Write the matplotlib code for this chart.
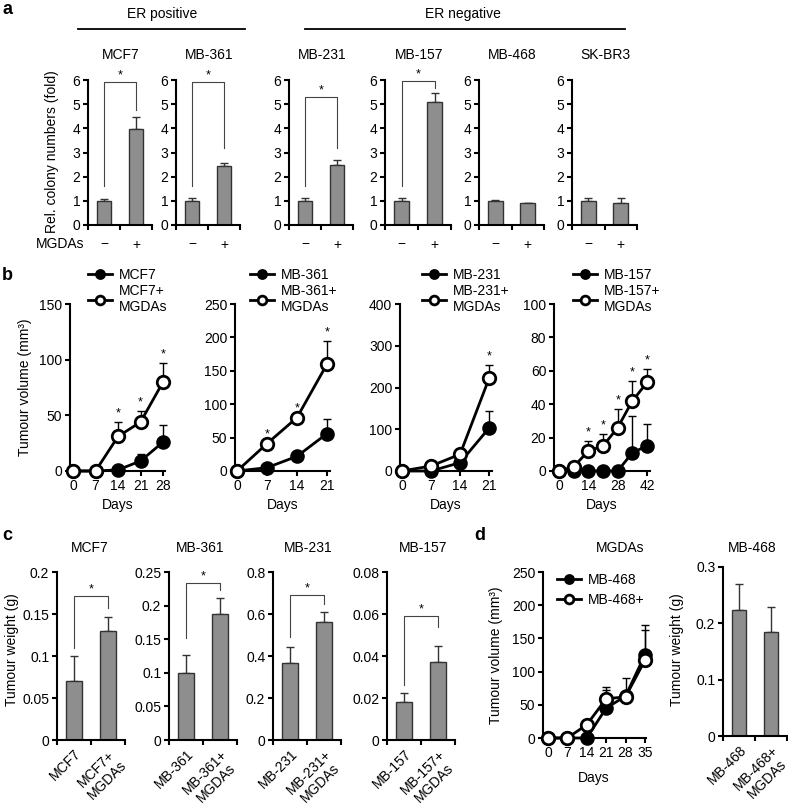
import matplotlib
matplotlib.use("Agg")
import matplotlib.pyplot as plt
from matplotlib.lines import Line2D
import numpy as np

FS = 10
plt.rcParams['font.family'] = ['Liberation Sans', 'DejaVu Sans']
plt.rcParams['font.size'] = FS

# ---------------- DATA ----------------
# Panel a: relative colony numbers
a_names = ['MCF7', 'MB-361', 'MB-231', 'MB-157', 'MB-468', 'SK-BR3']
a_ctrl = [1.0, 1.0, 1.0, 1.0, 1.0, 1.0]
a_ctrl_err = [0.08, 0.12, 0.10, 0.12, 0.05, 0.13]
a_mgda = [3.97, 2.45, 2.47, 5.10, 0.92, 0.92]
a_mgda_err = [0.50, 0.12, 0.20, 0.38, 0.0, 0.20]
# significance brackets: (top, left leg bottom, right leg bottom)
a_sig = [(5.9, 1.6, 4.75), (5.9, 1.6, 3.2), (5.3, 1.6, 3.2), (5.95, 1.6, 5.65), None, None]
a_xlabels = ['\u2212', '+']
a_yticks = [0, 1, 2, 3, 4, 5, 6]

# Panel b: tumour volume time courses
b_names = ['MCF7', 'MB-361', 'MB-231', 'MB-157']
b_days = [[0, 7, 14, 21, 28], [0, 7, 14, 21], [0, 7, 14, 21], [0, 7, 14, 21, 28, 35, 42]]
b_ctrl = [[0, 0, 1, 9, 26], [0, 5, 22, 56], [0, 0, 20, 103], [0, 0, 0, 0, 0, 11, 15]]
b_ctrl_err = [[0, 0, 0, 6, 15], [0, 0, 0, 22], [0, 0, 0, 41], [0, 0, 0, 0, 0, 22, 13]]
b_mgda = [[0, 0, 31, 44, 80], [0, 41, 80, 160], [0, 12, 40, 222], [0, 2.6, 12, 15, 26, 42, 53]]
b_mgda_err = [[0, 0, 13, 10, 17], [0, 0, 0, 34], [0, 0, 0, 32], [0, 0, 6, 7, 11, 12, 8]]
b_star_days = [[14, 21, 28], [7, 14, 21], [21], [14, 21, 28, 35, 42]]
b_yticks = [[0, 50, 100, 150], [0, 50, 100, 150, 200, 250], [0, 100, 200, 300, 400],
            [0, 20, 40, 60, 80, 100]]
b_xticks = [[0, 7, 14, 21, 28], [0, 7, 14, 21], [0, 7, 14, 21], [0, 14, 28, 42]]

# Panel c: tumour weight
c_names = ['MCF7', 'MB-361', 'MB-231', 'MB-157']
c_ctrl = [0.070, 0.099, 0.367, 0.018]
c_ctrl_err = [0.030, 0.028, 0.076, 0.0045]
c_mgda = [0.130, 0.188, 0.561, 0.037]
c_mgda_err = [0.017, 0.024, 0.047, 0.008]
c_sig = [(0.171, 0.11, 0.157), (0.234, 0.152, 0.223), (0.69, 0.49, 0.65), (0.059, 0.026, 0.054)]
c_yticks = [[0, 0.05, 0.1, 0.15, 0.2], [0, 0.05, 0.1, 0.15, 0.2, 0.25],
            [0, 0.2, 0.4, 0.6, 0.8], [0, 0.02, 0.04, 0.06, 0.08]]
c_yticklabels = [['0', '0.05', '0.1', '0.15', '0.2'], ['0', '0.05', '0.1', '0.15', '0.2', '0.25'],
                 ['0', '0.2', '0.4', '0.6', '0.8'], ['0', '0.02', '0.04', '0.06', '0.08']]

# Panel d: MB-468
d_days = [0, 7, 14, 21, 28, 35]
d_ctrl = [0, 0, 0, 45, 63, 125]
d_ctrl_err = [0, 0, 0, 27, 0, 45]
d_mgda = [0, 0, 20, 59, 62, 117]
d_mgda_err = [0, 0, 0, 18, 29, 46]
d_w = [0.223, 0.184]
d_w_err = [0.047, 0.045]
d_w_labels = ['MB-468', 'MB-468+\nMGDAs']

# ---------------- FIGURE ----------------
W, H = 788, 807
fig = plt.figure(figsize=(W / 100, H / 100), dpi=100)

BAR_FC = '#8e8e8e'
BAR_EC = '#333333'
SPINE_LW = 1.5


def add_ax(x0, x1, ytop, ybot):
    return fig.add_axes([x0 / W, 1 - ybot / H, (x1 - x0) / W, (ybot - ytop) / H])


def ftext(x, y, s, **kw):
    kw.setdefault('ha', 'center')
    kw.setdefault('va', 'center')
    kw.setdefault('fontsize', FS)
    return fig.text(x / W, 1 - y / H, s, **kw)


def style(ax):
    for s in ['top', 'right']:
        ax.spines[s].set_visible(False)
    for s in ['left', 'bottom']:
        ax.spines[s].set_linewidth(SPINE_LW)
    ax.tick_params(which='major', direction='out', length=3.5, width=SPINE_LW, pad=2,
                   labelsize=FS)
    ax.patch.set_alpha(0)


def bar_panel(ax, vals, errs, yticks, ylabels=None):
    xs = [0.5, 1.5]
    ax.bar(xs, vals, width=0.46, color=BAR_FC, edgecolor=BAR_EC, linewidth=1.0, zorder=2)
    ax.errorbar(xs, vals, yerr=[np.zeros(2), errs], fmt='none', ecolor=BAR_EC,
                elinewidth=1.0, capsize=3, capthick=1.0, zorder=1)
    ax.set_xlim(0, 2)
    ax.set_ylim(0, yticks[-1])
    ax.set_yticks(yticks)
    if ylabels is not None:
        ax.set_yticklabels(ylabels)
    ax.set_xticks([0, 1, 2])
    ax.set_xticklabels([])
    style(ax)


def bracket(ax, sig):
    top, lb, rb = sig
    ax.plot([0.5, 0.5, 1.5, 1.5], [lb, top, top, rb], color='#444444', lw=0.8,
            clip_on=False, zorder=3)
    ax.annotate('*', (1.0, top), xytext=(0, 0.5), textcoords='offset points',
                ha='center', va='bottom', fontsize=9, annotation_clip=False)


# ---------------- PANEL a ----------------
a_pos = [(88, 152), (176, 240), (289, 353), (385, 451), (479, 544), (572, 637)]
for i, (x0, x1) in enumerate(a_pos):
    ax = add_ax(x0, x1, 80, 225)
    bar_panel(ax, [a_ctrl[i], a_mgda[i]], [a_ctrl_err[i], a_mgda_err[i]], a_yticks)
    ax.set_xticks([0.5, 1.5], minor=True)
    ax.set_xticklabels(a_xlabels, minor=True)
    ax.tick_params(which='minor', length=0, pad=9, labelsize=FS)
    if a_sig[i] is not None:
        bracket(ax, a_sig[i])
    ftext((x0 + x1) / 2 + 1, 55, a_names[i])
    if i == 0:
        ftext(52, 152, 'Rel. colony numbers (fold)', rotation=90)
        ftext(60, 244, 'MGDAs')

ftext(162, 14, 'ER positive')
ftext(463, 14, 'ER negative')
fig.add_artist(Line2D([78 / W, 245 / W], [1 - 29 / H, 1 - 29 / H], color='black', lw=1.3))
fig.add_artist(Line2D([305 / W, 625 / W], [1 - 29 / H, 1 - 29 / H], color='black', lw=1.3))

# ---------------- PANEL b ----------------
b_pos = [(70, 165, -0.93, 28.6), (235, 330, -0.47, 21.7), (400, 492, -0.48, 21.7),
         (554, 650, -2.4, 43.4)]
b_leg = [(88, 268), (250, 268), (422, 268), (573, 268)]
LINE_LW = 2.0
MS = 9


def time_panel(ax, days, ctrl, ctrl_err, mgda, mgda_err, yticks, xticks, xlim, labels):
    ax.errorbar(days, ctrl, yerr=[np.zeros(len(days)), ctrl_err], fmt='none', ecolor='black',
                elinewidth=1.0, capsize=3, capthick=1.0, zorder=1, clip_on=False)
    ax.errorbar(days, mgda, yerr=[np.zeros(len(days)), mgda_err], fmt='none', ecolor='black',
                elinewidth=1.0, capsize=3, capthick=1.0, zorder=1, clip_on=False)
    l1, = ax.plot(days, ctrl, '-o', color='black', lw=LINE_LW, ms=MS, mfc='black',
                  mec='black', mew=1.5, clip_on=False, zorder=3, label=labels[0])
    l2, = ax.plot(days, mgda, '-o', color='black', lw=LINE_LW, ms=MS, mfc='white',
                  mec='black', mew=2.0, clip_on=False, zorder=4, label=labels[1])
    ax.set_xlim(*xlim)
    ax.set_ylim(0, yticks[-1])
    ax.set_yticks(yticks)
    ax.set_xticks(xticks)
    style(ax)
    return l1, l2


for i, (x0, x1, xl0, xl1) in enumerate(b_pos):
    ax = add_ax(x0, x1, 304, 471)
    labs = [b_names[i], b_names[i] + '+\nMGDAs']
    l1, l2 = time_panel(ax, b_days[i], b_ctrl[i], b_ctrl_err[i], b_mgda[i], b_mgda_err[i],
                        b_yticks[i], b_xticks[i], (xl0, xl1), labs)
    for d in b_star_days[i]:
        k = b_days[i].index(d)
        ax.annotate('*', (d, b_mgda[i][k] + b_mgda_err[i][k]), xytext=(0, 2),
                    textcoords='offset points', ha='center', va='bottom', fontsize=9,
                    annotation_clip=False)
    lx, ly = b_leg[i]
    ax.legend(handles=[l1, l2], loc='upper left', bbox_to_anchor=(lx / W, 1 - ly / H),
              bbox_transform=fig.transFigure, frameon=False, fontsize=FS, handlelength=1.7,
              handletextpad=0.5, labelspacing=0.15, borderpad=0, borderaxespad=0,
              markerscale=0.7)
    ftext((x0 + x1) / 2, 505, 'Days')
ftext(25, 387, 'Tumour volume (mm\u00b3)', rotation=90)

# ---------------- PANEL c ----------------
c_pos = [(57, 125), (169, 237), (273, 341), (387, 455)]
c_title_x = [90, 200, 308, 423]
for i, (x0, x1) in enumerate(c_pos):
    ax = add_ax(x0, x1, 572, 740)
    bar_panel(ax, [c_ctrl[i], c_mgda[i]], [c_ctrl_err[i], c_mgda_err[i]], c_yticks[i],
              c_yticklabels[i])
    ax.set_xticks([0.5, 1.5], minor=True)
    ax.set_xticklabels([c_names[i], c_names[i] + '+\nMGDAs'], minor=True, rotation=45,
                       ha='right', va='top', rotation_mode='anchor', multialignment='center')
    ax.tick_params(which='minor', length=0, pad=5, labelsize=FS)
    bracket(ax, c_sig[i])
    ftext(c_title_x[i], 548, c_names[i])
ftext(12, 650, 'Tumour weight (g)', rotation=90)

# ---------------- PANEL d ----------------
ax = add_ax(543, 646, 572, 738)
l1, l2 = time_panel(ax, d_days, d_ctrl, d_ctrl_err, d_mgda, d_mgda_err,
                    [0, 50, 100, 150, 200, 250], d_days, (-1.8, 35.4), ['MB-468', 'MB-468+'])
ax.legend(handles=[l1, l2], loc='upper left', bbox_to_anchor=(557 / W, 1 - 573 / H),
          bbox_transform=fig.transFigure, frameon=False, fontsize=FS, handlelength=1.7,
          handletextpad=0.5, labelspacing=0.45, borderpad=0, borderaxespad=0, markerscale=0.7)
ftext(594, 778, 'Days')
ftext(620, 548, 'MGDAs')
ftext(496, 655, 'Tumour volume (mm\u00b3)', rotation=90)

ax = add_ax(723, 787, 567, 736)
bar_panel(ax, d_w, d_w_err, [0, 0.1, 0.2, 0.3], ['0', '0.1', '0.2', '0.3'])
ax.set_xticks([0.5, 1.5], minor=True)
ax.set_xticklabels(d_w_labels, minor=True, rotation=45, ha='right', va='top',
                   rotation_mode='anchor', multialignment='center')
ax.tick_params(which='minor', length=0, pad=5, labelsize=FS)
ftext(752, 548, 'MB-468')
ftext(677, 650, 'Tumour weight (g)', rotation=90)

# panel letters
for s, x, y in [('a', 7, 10), ('b', 7, 275), ('c', 7, 535), ('d', 480, 535)]:
    ftext(x, y, s, fontsize=13, fontweight='bold')

fig.savefig('out.png', dpi=100)
